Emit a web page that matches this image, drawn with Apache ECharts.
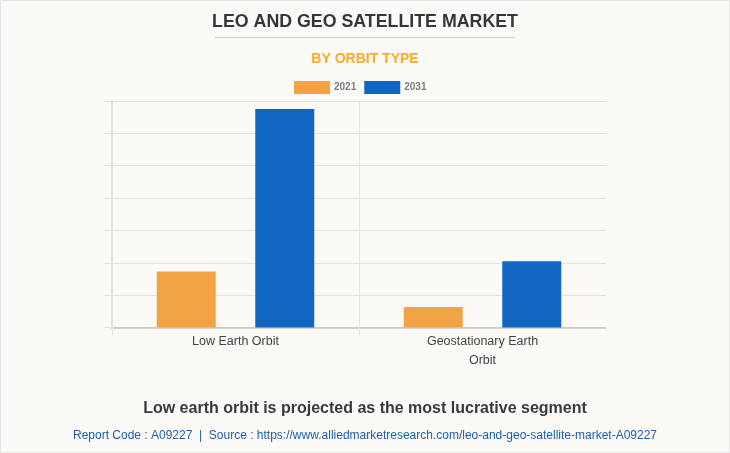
<!DOCTYPE html>
<html><head><meta charset="utf-8">
<style>html,body{margin:0;padding:0;background:#fbfaf6}#c{width:730px;height:453px}</style>
<script src="https://cdn.jsdelivr.net/npm/echarts@6/dist/echarts.min.js"></script>
</head><body><div id="c"></div>
<script>
const categories = ['Low Earth Orbit', 'Geostationary Earth\nOrbit'];
const years = ['2021', '2031'];
const values2021 = [17.3, 6.3];
const values2031 = [67.5, 20.5];
const axisMax = 70;
const axisStep = 10;
const colors = ['#f4a344', '#1166c2'];
const bg = '#fbfaf6';
const font = '"Liberation Sans", Arial, sans-serif';
const chart = echarts.init(document.getElementById('c'), null, {renderer:'canvas'});
chart.setOption({
  animation:false,
  backgroundColor:bg,
  textStyle:{fontFamily:font},
  title:[
    {text:'LEO AND GEO SATELLITE MARKET',left:'center',top:8,textStyle:{fontFamily:font,fontSize:17.8,fontWeight:'bold',color:'#363636'}},
    {text:'BY ORBIT TYPE',left:'center',top:47,textStyle:{fontFamily:font,fontSize:14,fontWeight:'bold',color:'#fbab24'}},
    {text:'Low earth orbit is projected as the most lucrative segment',left:'center',top:396,textStyle:{fontFamily:font,fontSize:16,fontWeight:'bold',color:'#3a3a3a'}},
    {text:'Report Code : A09227  |  Source : https://www.alliedmarketresearch.com/leo-and-geo-satellite-market-A09227',left:'center',top:425,textStyle:{fontFamily:font,fontSize:12,fontWeight:'normal',color:'#1e5fa8'}}
  ],
  legend:{data:years,top:76,left:289,icon:'rect',itemWidth:36,itemHeight:13,itemGap:8,
    textStyle:{fontFamily:font,fontSize:10,fontWeight:'bold',color:'#7d7d7d',padding:[0,0,0,-1]}},
  grid:{left:112,right:124,top:101,bottom:125.5,containLabel:false},
  xAxis:{type:'category',data:categories,
    axisLine:{lineStyle:{color:'#c6c6c2',width:1.5}},
    axisTick:{show:true,length:8,lineStyle:{color:'#e6e5e0'}},
    splitLine:{show:true,showMaxLine:false,lineStyle:{color:'#e6e5e0'}},
    axisLabel:{fontFamily:font,fontSize:12.5,color:'#444',margin:5,lineHeight:19}},
  yAxis:{type:'value',min:0,max:axisMax,interval:axisStep,
    axisLine:{show:true,lineStyle:{color:'#e4e4df',width:2}},
    axisTick:{show:true,length:8,lineStyle:{color:'#e4e3de'}},
    axisLabel:{show:false},
    splitLine:{show:true,lineStyle:{color:'#e4e3de'}}},
  series:[
    {name:years[0],type:'bar',data:values2021,barWidth:59,barGap:'67%',itemStyle:{color:colors[0]}},
    {name:years[1],type:'bar',data:values2031,barWidth:59,itemStyle:{color:colors[1]}}
  ],
  graphic:[
    {type:'rect',z:100,shape:{x:606.2,y:95,width:4,height:245},style:{fill:bg},silent:true},
    {type:'rect',shape:{x:0.5,y:0.5,width:729,height:452},style:{fill:'none',stroke:'#e6e6e6',lineWidth:1},silent:true},
    {type:'line',shape:{x1:215,y1:37.5,x2:515,y2:37.5},style:{stroke:'#cfcfca',lineWidth:1},silent:true}
  ]
});
</script></body></html>
